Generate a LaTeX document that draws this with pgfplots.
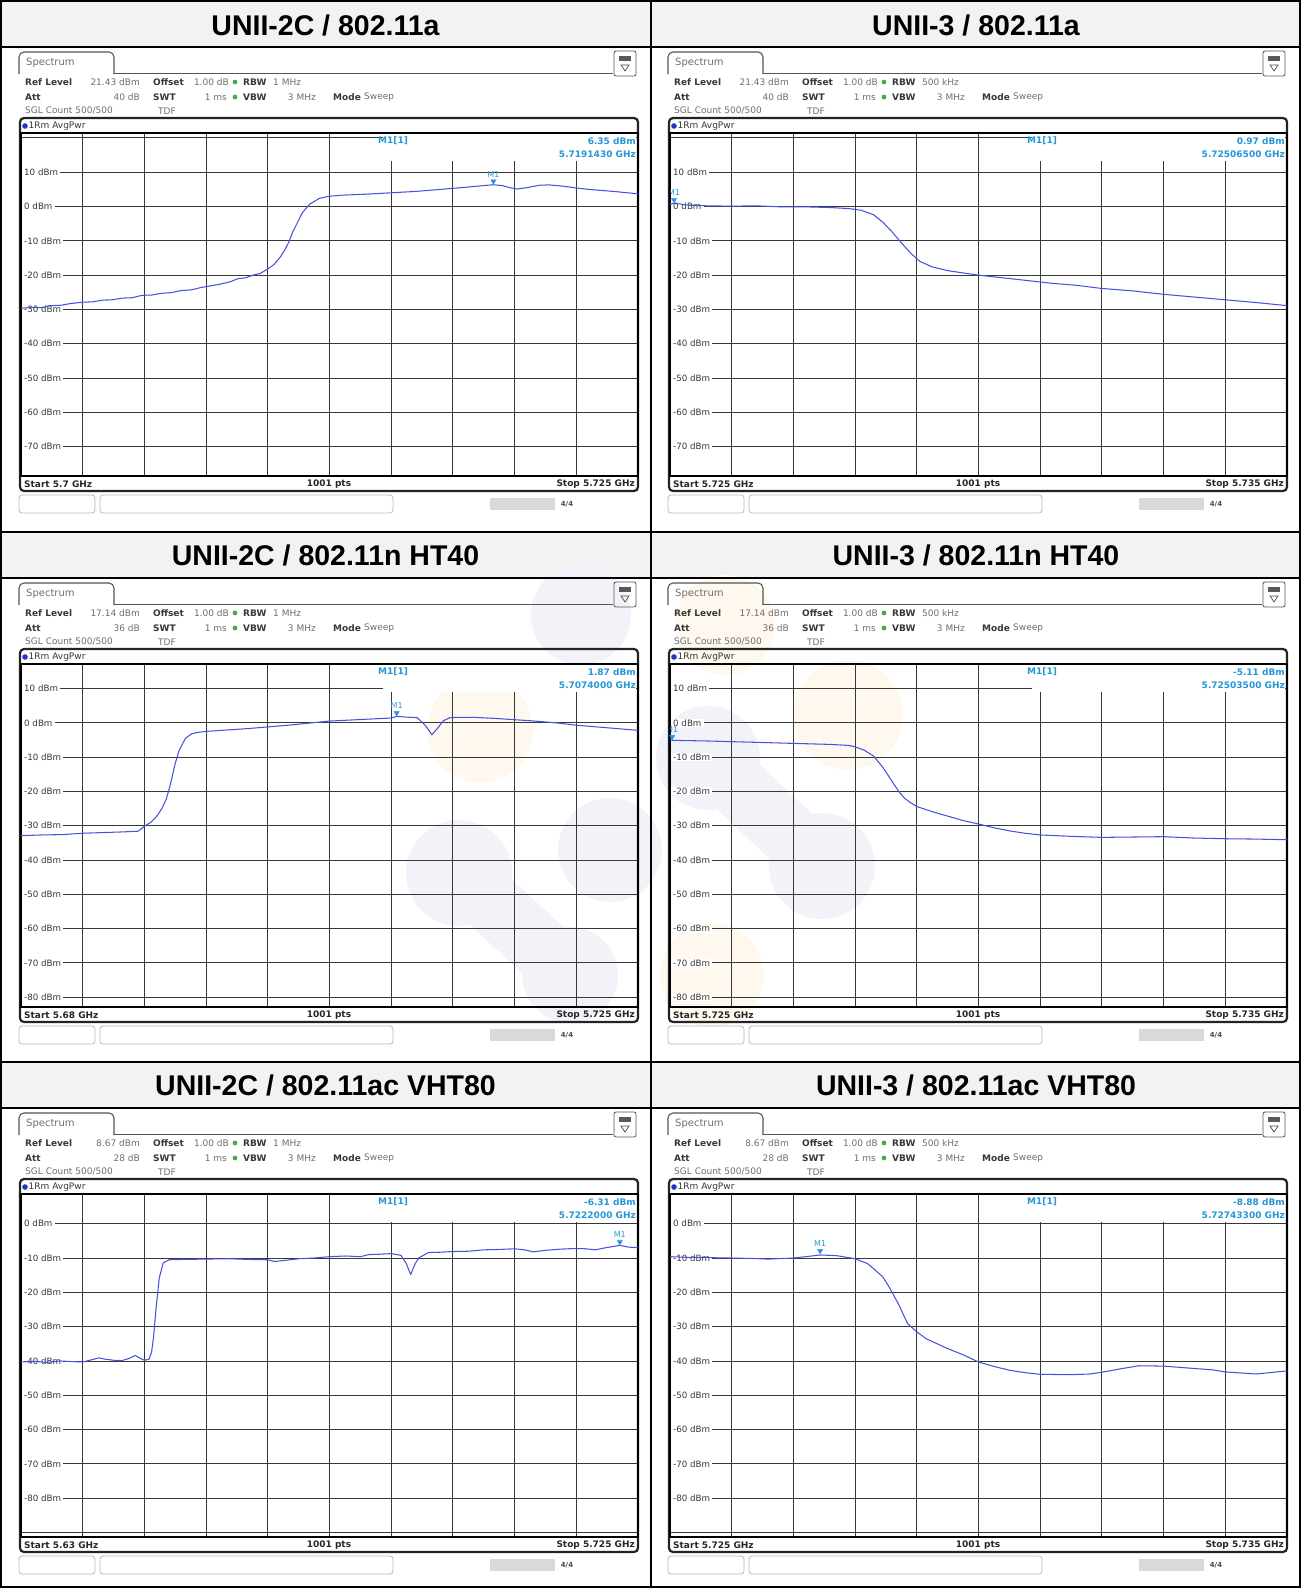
\documentclass[border=0pt]{standalone}
\usepackage{pgfplots}
\pgfplotsset{compat=1.18}
\usepackage{fontspec}
\setmainfont{DejaVu Sans}
\newfontfamily\hdrfont{Liberation Sans}
\definecolor{trace}{RGB}{70,82,222}
\definecolor{mk}{RGB}{38,150,214}
\definecolor{hdrbg}{RGB}{242,242,242}
\definecolor{gridc}{RGB}{55,55,55}
\definecolor{framec}{RGB}{35,35,35}
\definecolor{lab}{RGB}{55,55,55}
\definecolor{val}{RGB}{110,110,110}
\definecolor{tabc}{RGB}{85,85,85}
\definecolor{avg}{RGB}{40,50,200}
\definecolor{wmg}{RGB}{241,243,249}
\definecolor{wmo}{RGB}{254,248,238}
\definecolor{dotg}{RGB}{70,170,80}
\newcommand\ft{\fontsize{9pt}{10.5pt}\selectfont}
\tikzset{
 il/.style={anchor=west, inner sep=0pt, font=\ft\bfseries, text=lab},
 iv/.style={anchor=west, inner sep=0pt, font=\ft, text=val},
 bl/.style={inner sep=0pt, font=\ft\bfseries, text=black!85},
 ylab/.style={anchor=west, fill=white, inner xsep=2.2pt, inner ysep=0.6pt, xshift=0.8pt, font=\fontsize{8.7pt}{10pt}\selectfont, text=lab},
 mkt/.style={anchor=south, yshift=7.5pt, inner sep=0pt, font=\fontsize{8pt}{9pt}\selectfont, text=mk},
 mktxt/.style={inner sep=0pt, font=\ft\bfseries, text=mk},
 hdr/.style={anchor=base, inner sep=0pt, font={\hdrfont\bfseries\fontsize{28.5pt}{32pt}\selectfont}}
}
\pgfplotsset{
 spec/.style={scale only axis, anchor=north west, width=617pt, height=343pt,
  grid=major, grid style={gridc, line width=0.9pt},
  axis line style={black, line width=1.3pt},
  xticklabels={,,}, yticklabels={,,}, tick label style={opacity=0, text opacity=0},
  major tick length=0pt, tick style={draw=none},
  scaled ticks=false, clip=true},
 trc/.style={color=trace, line width=1.05pt, no markers, line join=round},
 mkr/.style={only marks, color=mk, mark=triangle*, mark size=3pt, mark options={yshift=3.4pt, rotate=180, fill=mk}}
}
\newcommand\panelbg[7]{%
\begin{scope}[shift={(#1pt,-#2pt)},x=1pt,y=-1pt]
 \draw[tabc, line width=1.1pt, rounded corners=5pt] (19,27) -- (19,5) -- (114,5) -- (114,27);
 \draw[tabc, line width=1.1pt] (114,26.5) -- (613,26.5);
 \node[anchor=west, inner sep=0pt, font=\fontsize{10pt}{12pt}\selectfont, text=val] at (26,16) {Spectrum};
 \draw[tabc, line width=0.8pt, rounded corners=2pt] (614,4) rectangle (636,29);
 \fill[gray!70!black] (619,9) rectangle (631,14);
 \draw[gray!60!black, line width=0.7pt] (621,18) -- (629,18) -- (625,24) -- cycle;
 \node[il] at (25,35) {Ref Level}; \node[iv, anchor=east] at (140,35) {#3 dBm};
 \node[il] at (153,35) {Offset}; \node[iv,anchor=east] at (229,35) {1.00 dB};
 \fill[dotg] (235,35) circle (2.4pt);
 \node[il] at (243,35) {RBW}; \node[iv] at (273,35) {#5};
 \node[il] at (25,50) {Att}; \node[iv,anchor=east] at (140,50) {#4 dB};
 \node[il] at (153,50) {SWT}; \node[iv,anchor=east] at (227,50) {1 ms};
 \fill[dotg] (235,50) circle (2.4pt);
 \node[il] at (243,50) {VBW}; \node[iv,anchor=east] at (316,50) {3 MHz};
 \node[il] at (333,50) {Mode}; \node[iv] at (364,50) {Sweep};
 \node[iv] at (25,64) {SGL Count 500/500}; \node[iv] at (158,64) {TDF};
 \draw[framec, line width=2.2pt, rounded corners=4pt] (20,71) rectangle (638,444);
 \fill[avg] (25,79) circle (2.8pt);
 \node[iv, text=lab] at (28.5,79) {1Rm AvgPwr};
 \node[bl, anchor=west] at (24,437) {#6};
 \node[bl] at (329,437) {1001 pts};
 \node[bl, anchor=east] at (635,437) {#7};
 \draw[gray!55, line width=0.8pt, rounded corners=3pt] (19,448) rectangle (95,466);
 \draw[gray!55, line width=0.8pt, rounded corners=3pt] (100,448) rectangle (393,466);
 \fill[gray!30] (490,451) rectangle (555,463);
 \node[font=\bfseries\fontsize{7pt}{8pt}\selectfont, text=gray!60!black, inner sep=0pt] at (567,457) {4/4};
\end{scope}}
\newcommand\panelfg[4]{%
\begin{scope}[shift={(#1pt,-#2pt)},x=1pt,y=-1pt]
 \node[mktxt, anchor=west] at (378,94) {M1[1]};
 \node[mktxt, anchor=east] at (636,94) {#3};
 \node[mktxt, anchor=east] at (636,107) {#4};
\end{scope}}
\begin{document}
\begin{tikzpicture}
\useasboundingbox (0pt,0pt) rectangle (1301pt,-1588pt);
\begin{scope}[x=1pt,y=-1pt]
 \fill[hdrbg] (0,0) rectangle (1301,47);
 \fill[hdrbg] (0,532) rectangle (1301,578);
 \fill[hdrbg] (0,1062) rectangle (1301,1108);
 % faint watermark
 \fill[wmg] (581,615) circle (50pt);
 \fill[wmo] (480,730) circle (53pt);
 \draw[wmg, line width=62pt, line cap=round] (459,873) -- (570,975);
 \fill[wmg] (459,873) circle (53pt);
 \fill[wmg] (610,850) circle (52pt);
 \fill[wmg] (570,975) circle (48pt);
 \fill[wmo] (725,625) circle (50pt);
 \fill[wmo] (848,715) circle (55pt);
 \draw[wmg, line width=62pt, line cap=round] (708,758) -- (822,866);
 \fill[wmg] (708,758) circle (52pt);
 \fill[wmg] (822,866) circle (53pt);
 \fill[wmo] (712,975) circle (52pt);
\end{scope}

\panelbg{0}{47}{21.43}{40}{1 MHz}{Start 5.7 GHz}{Stop 5.725 GHz}
\panelbg{649}{47}{21.43}{40}{500 kHz}{Start 5.725 GHz}{Stop 5.735 GHz}
\panelbg{0}{578}{17.14}{36}{1 MHz}{Start 5.68 GHz}{Stop 5.725 GHz}
\panelbg{649}{578}{17.14}{36}{500 kHz}{Start 5.725 GHz}{Stop 5.735 GHz}
\panelbg{0}{1108}{8.67}{28}{1 MHz}{Start 5.63 GHz}{Stop 5.725 GHz}
\panelbg{649}{1108}{8.67}{28}{500 kHz}{Start 5.725 GHz}{Stop 5.735 GHz}

% ---------- UNII-2C / 802.11a
\begin{axis}[spec, at={(21pt,-133pt)}, xmin=5700, xmax=5725, ymin=-78.57, ymax=21.43,
 xtick={5700,5702.5,5705,5707.5,5710,5712.5,5715,5717.5,5720,5722.5,5725},
 ytick={-70,-60,-50,-40,-30,-20,-10,0,10,20}]
\fill[white] (rel axis cs:0.587,0.996) rectangle (rel axis cs:0.997,0.918);
\pgfplotsinvokeforeach{10,0,-10,-20,-30,-40,-50,-60,-70}{\node[ylab] at (axis cs:5700,#1) {#1 dBm};}
\addplot[trc] coordinates {(5700.0,-29.7)(5700.4,-29.4)(5700.8,-29.5)(5701.2,-28.9)(5701.6,-28.8)(5702.0,-28.3)(5702.5,-27.9)(5702.9,-27.8)(5703.3,-27.3)(5703.7,-27.2)(5704.1,-26.7)(5704.5,-26.6)(5704.9,-25.9)(5705.3,-25.8)(5705.7,-25.3)(5706.1,-25.1)(5706.5,-24.5)(5706.9,-24.3)(5707.3,-23.6)(5707.7,-23.1)(5708.1,-22.6)(5708.5,-21.9)(5708.8,-21.0)(5709.1,-20.8)(5709.4,-20.0)(5709.7,-19.5)(5710.0,-18.2)(5710.25,-16.9)(5710.5,-14.8)(5710.7,-12.5)(5710.85,-10.4)(5711.0,-7.6)(5711.2,-4.7)(5711.4,-1.8)(5711.7,0.7)(5712.1,2.4)(5712.5,3.0)(5713.0,3.3)(5714.0,3.6)(5715.0,4.0)(5716.0,4.4)(5717.0,5.0)(5717.5,5.3)(5718.0,5.6)(5718.6,6.0)(5719.14,6.35)(5719.5,6.1)(5719.8,5.5)(5720.1,5.1)(5720.5,5.5)(5721.0,6.2)(5721.4,6.3)(5722.0,5.9)(5722.5,5.4)(5723.0,5.0)(5724.0,4.4)(5725.0,3.7)};
\addplot[mkr] coordinates {(5719.143,6.35)};
\node[mkt] at (axis cs:5719.143,6.35) {M1};
\end{axis}

% ---------- UNII-3 / 802.11a
\begin{axis}[spec, at={(670pt,-133pt)}, xmin=5725, xmax=5735, ymin=-78.57, ymax=21.43,
 xtick={5725,5726,5727,5728,5729,5730,5731,5732,5733,5734,5735},
 ytick={-70,-60,-50,-40,-30,-20,-10,0,10,20}]
\fill[white] (rel axis cs:0.587,0.996) rectangle (rel axis cs:0.997,0.918);
\pgfplotsinvokeforeach{10,0,-10,-20,-30,-40,-50,-60,-70}{\node[ylab] at (axis cs:5725,#1) {#1 dBm};}
\addplot[trc] coordinates {(5725.0,0.6)(5725.065,0.97)(5725.3,0.4)(5725.6,0.2)(5726.0,0.1)(5726.4,0.2)(5726.8,-0.1)(5727.2,-0.1)(5727.6,-0.3)(5727.9,-0.6)(5728.1,-1.1)(5728.3,-2.4)(5728.45,-4.6)(5728.6,-7.4)(5728.75,-10.6)(5728.9,-13.6)(5729.05,-16.0)(5729.25,-17.6)(5729.5,-18.7)(5729.8,-19.5)(5730.0,-20.0)(5730.4,-20.8)(5730.8,-21.6)(5731.2,-22.4)(5731.6,-23.0)(5732.0,-23.9)(5732.5,-24.6)(5733.0,-25.6)(5733.5,-26.4)(5734.0,-27.2)(5734.5,-28.0)(5735.0,-28.9)};
\addplot[mkr] coordinates {(5725.065,0.97)};
\node[mkt] at (axis cs:5725.065,0.97) {M1};
\end{axis}

% ---------- UNII-2C / 802.11n HT40
\begin{axis}[spec, at={(21pt,-664pt)}, xmin=5680, xmax=5725, ymin=-82.86, ymax=17.14,
 xtick={5680,5684.5,5689,5693.5,5698,5702.5,5707,5711.5,5716,5720.5,5725},
 ytick={-80,-70,-60,-50,-40,-30,-20,-10,0,10}]
\fill[white] (rel axis cs:0.587,0.996) rectangle (rel axis cs:0.997,0.918);
\pgfplotsinvokeforeach{10,0,-10,-20,-30,-40,-50,-60,-70,-80}{\node[ylab] at (axis cs:5680,#1) {#1 dBm};}
\addplot[trc] coordinates {(5680.0,-32.9)(5681.5,-32.7)(5683.0,-32.6)(5684.5,-32.2)(5686.0,-32.0)(5687.5,-31.8)(5688.55,-31.6)(5689.0,-30.2)(5689.5,-28.9)(5689.9,-27.3)(5690.3,-24.8)(5690.6,-22.2)(5690.9,-17.9)(5691.25,-11.8)(5691.55,-7.9)(5692.0,-4.5)(5692.45,-3.2)(5692.9,-2.8)(5693.5,-2.5)(5695.0,-2.1)(5696.5,-1.7)(5698.0,-1.2)(5699.5,-0.7)(5701.0,-0.1)(5702.5,0.5)(5704.0,0.8)(5705.5,1.1)(5707.0,1.4)(5707.4,1.87)(5708.0,1.7)(5708.9,1.5)(5709.5,-0.8)(5709.97,-3.5)(5710.4,-1.5)(5710.8,0.6)(5711.3,1.5)(5712.0,1.6)(5713.0,1.6)(5714.5,1.3)(5716.0,0.9)(5717.5,0.5)(5719.0,0.0)(5720.5,-0.7)(5722.0,-1.2)(5723.5,-1.7)(5725.0,-2.2)};
\addplot[mkr] coordinates {(5707.4,1.87)};
\node[mkt] at (axis cs:5707.4,1.87) {M1};
\end{axis}

% ---------- UNII-3 / 802.11n HT40
\begin{axis}[spec, at={(670pt,-664pt)}, xmin=5725, xmax=5735, ymin=-82.86, ymax=17.14,
 xtick={5725,5726,5727,5728,5729,5730,5731,5732,5733,5734,5735},
 ytick={-80,-70,-60,-50,-40,-30,-20,-10,0,10}]
\fill[white] (rel axis cs:0.587,0.996) rectangle (rel axis cs:0.997,0.918);
\pgfplotsinvokeforeach{10,0,-10,-20,-30,-40,-50,-60,-70,-80}{\node[ylab] at (axis cs:5725,#1) {#1 dBm};}
\addplot[trc] coordinates {(5725.0,-4.9)(5725.035,-5.11)(5725.3,-5.2)(5725.6,-5.3)(5726.0,-5.5)(5726.4,-5.7)(5726.8,-5.9)(5727.2,-6.1)(5727.6,-6.3)(5727.9,-6.6)(5728.0,-7.0)(5728.15,-8.0)(5728.3,-9.7)(5728.45,-13.0)(5728.6,-17.1)(5728.7,-19.8)(5728.8,-22.0)(5728.9,-23.3)(5729.0,-24.4)(5729.25,-25.9)(5729.5,-27.2)(5729.75,-28.5)(5730.0,-29.5)(5730.25,-30.6)(5730.5,-31.5)(5730.75,-32.2)(5731.0,-32.7)(5731.5,-33.1)(5732.0,-33.4)(5732.5,-33.3)(5733.0,-33.2)(5733.5,-33.6)(5734.0,-33.8)(5734.5,-33.9)(5735.0,-34.1)};
\addplot[mkr] coordinates {(5725.035,-5.11)};
\node[mkt] at (axis cs:5725.035,-5.11) {M1};
\end{axis}

% ---------- UNII-2C / 802.11ac VHT80
\begin{axis}[spec, at={(21pt,-1194pt)}, xmin=5630, xmax=5725, ymin=-91.33, ymax=8.67,
 xtick={5630,5639.5,5649,5658.5,5668,5677.5,5687,5696.5,5706,5715.5,5725},
 ytick={-90,-80,-70,-60,-50,-40,-30,-20,-10,0}]
\fill[white] (rel axis cs:0.587,0.996) rectangle (rel axis cs:0.997,0.918);
\pgfplotsinvokeforeach{0,-10,-20,-30,-40,-50,-60,-70,-80}{\node[ylab] at (axis cs:5630,#1) {#1 dBm};}
\addplot[trc] coordinates {(5630.0,-40.3)(5632.0,-40.1)(5634.0,-40.4)(5636.0,-40.0)(5638.0,-40.2)(5639.5,-40.3)(5641.0,-39.6)(5642.0,-39.1)(5643.0,-39.5)(5644.3,-39.8)(5645.5,-39.9)(5646.6,-39.3)(5647.6,-38.4)(5648.3,-39.2)(5649.0,-39.8)(5649.7,-39.5)(5650.1,-37.5)(5650.4,-33.2)(5650.8,-24.5)(5651.3,-15.7)(5651.9,-11.4)(5652.8,-10.5)(5655.0,-10.4)(5658.5,-10.3)(5662.0,-10.2)(5665.0,-10.4)(5668.0,-10.5)(5669.0,-11.0)(5670.5,-10.7)(5672.8,-10.2)(5675.0,-10.0)(5677.5,-9.6)(5680.0,-9.4)(5682.3,-9.6)(5683.5,-9.0)(5685.0,-8.9)(5687.0,-8.7)(5688.5,-9.2)(5689.3,-11.5)(5690.0,-14.8)(5690.7,-11.6)(5691.3,-9.9)(5692.7,-8.4)(5694.5,-8.3)(5696.5,-8.1)(5699.0,-8.0)(5701.3,-7.6)(5703.5,-7.5)(5706.0,-7.3)(5707.5,-7.6)(5708.9,-8.2)(5710.5,-7.8)(5713.0,-7.4)(5715.5,-7.2)(5717.0,-7.3)(5718.4,-7.6)(5720.0,-7.0)(5722.2,-6.31)(5723.5,-6.8)(5725.0,-7.0)};
\addplot[mkr] coordinates {(5722.2,-6.31)};
\node[mkt] at (axis cs:5722.2,-6.31) {M1};
\end{axis}

% ---------- UNII-3 / 802.11ac VHT80
\begin{axis}[spec, at={(670pt,-1194pt)}, xmin=5725, xmax=5735, ymin=-91.33, ymax=8.67,
 xtick={5725,5726,5727,5728,5729,5730,5731,5732,5733,5734,5735},
 ytick={-90,-80,-70,-60,-50,-40,-30,-20,-10,0}]
\fill[white] (rel axis cs:0.587,0.996) rectangle (rel axis cs:0.997,0.918);
\pgfplotsinvokeforeach{0,-10,-20,-30,-40,-50,-60,-70,-80}{\node[ylab] at (axis cs:5725,#1) {#1 dBm};}
\addplot[trc] coordinates {(5725.0,-9.6)(5725.3,-9.8)(5725.7,-9.9)(5726.0,-10.0)(5726.3,-10.1)(5726.6,-10.3)(5727.0,-10.0)(5727.2,-9.6)(5727.433,-9.1)(5727.7,-9.3)(5728.0,-10.2)(5728.2,-11.6)(5728.3,-13.1)(5728.45,-15.5)(5728.55,-18.4)(5728.7,-23.3)(5728.85,-29.1)(5729.0,-31.5)(5729.15,-33.5)(5729.5,-36.4)(5729.75,-38.2)(5730.0,-40.3)(5730.25,-41.6)(5730.5,-42.7)(5730.75,-43.4)(5731.0,-43.9)(5731.5,-44.0)(5731.8,-43.8)(5732.0,-43.3)(5732.3,-42.3)(5732.6,-41.4)(5733.0,-41.5)(5733.5,-42.2)(5733.8,-42.6)(5734.0,-43.2)(5734.5,-43.8)(5735.0,-42.9)};
\addplot[mkr] coordinates {(5727.433,-8.88)};
\node[mkt] at (axis cs:5727.433,-8.88) {M1};
\end{axis}

\panelfg{0}{47}{6.35 dBm}{5.7191430 GHz}
\panelfg{649}{47}{0.97 dBm}{5.72506500 GHz}
\panelfg{0}{578}{1.87 dBm}{5.7074000 GHz}
\panelfg{649}{578}{-5.11 dBm}{5.72503500 GHz}
\panelfg{0}{1108}{-6.31 dBm}{5.7222000 GHz}
\panelfg{649}{1108}{-8.88 dBm}{5.72743300 GHz}

\node[hdr] at (325.5pt,-35.5pt) {UNII-2C / 802.11a};
\node[hdr] at (976pt,-35.5pt) {UNII-3 / 802.11a};
\node[hdr] at (325.5pt,-565pt) {UNII-2C / 802.11n HT40};
\node[hdr] at (976pt,-565pt) {UNII-3 / 802.11n HT40};
\node[hdr] at (325.5pt,-1095pt) {UNII-2C / 802.11ac VHT80};
\node[hdr] at (976pt,-1095pt) {UNII-3 / 802.11ac VHT80};

\begin{scope}[x=1pt,y=-1pt]
 \draw[line width=2.4pt] (1.2,1.2) rectangle (1299.8,1586.8);
 \draw[line width=2pt] (0,47)--(1301,47) (0,532)--(1301,532) (0,578)--(1301,578)
   (0,1062)--(1301,1062) (0,1108)--(1301,1108) (651,0)--(651,1588);
\end{scope}
\end{tikzpicture}
\end{document}
